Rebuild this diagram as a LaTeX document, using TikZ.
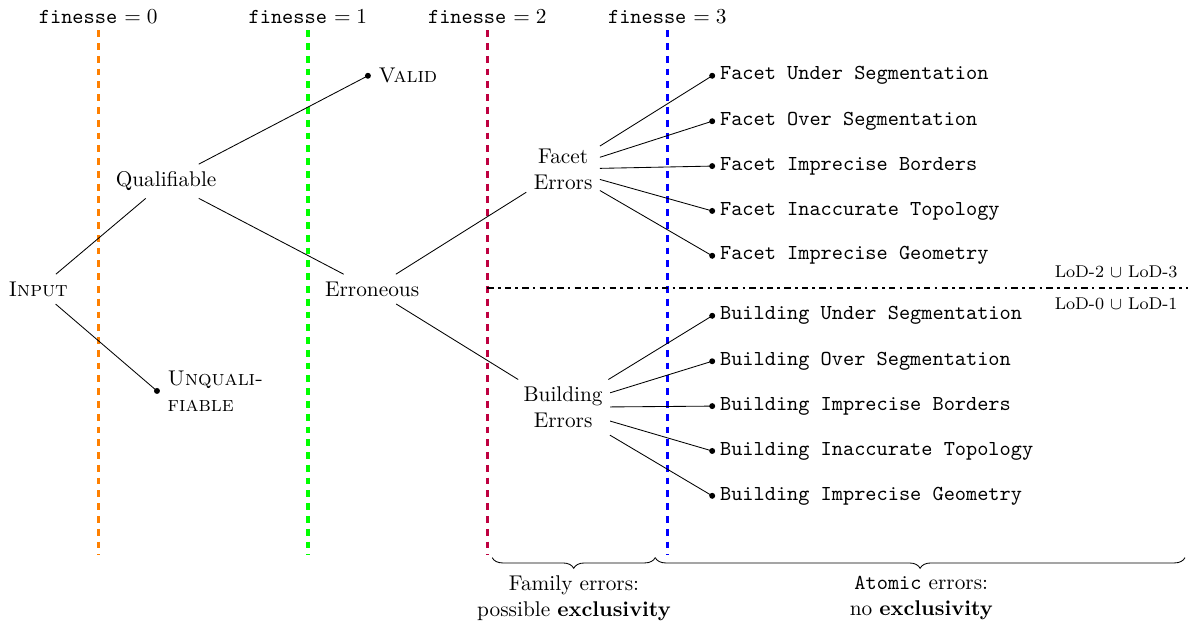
\documentclass[tikz,border=0pt]{standalone}
\usepackage{amssymb}
\usetikzlibrary{decorations.pathreplacing}

\tikzset{
	finesse/.style={line width=1.5pt, dash pattern=on 3.2pt off 2.8pt},
	leaf/.style={anchor=west, font=\ttfamily, inner sep=2pt, xshift=1.5pt},
	family/.style={align=center},
}

\begin{document}
\begin{tikzpicture}
			\useasboundingbox (0,0) rectangle (19.6,-10.33);

%draw finesse lines
			\draw[finesse, orange] (1.62,-0.5) -- (1.62,-9.16);
			\draw[finesse, green] (5.08,-0.5) -- (5.08,-9.16);
			\draw[finesse, purple] (8.04,-0.5) -- (8.04,-9.16);
			\draw[finesse, blue] (11.01,-0.5) -- (11.01,-9.16);

			\node (fZero) at (1.62,-0.27) {\texttt{finesse} $= 0$};
			\node (fOne) at (5.08,-0.27) {\texttt{finesse} $= 1$};
			\node (fTwo) at (8.04,-0.27) {\texttt{finesse} $= 2$};
			\node (fThree) at (11.01,-0.27) {\texttt{finesse} $= 3$};

%draw LoD separation
			\draw[very thick, dash dot] (8.04,-4.75) -- (19.6,-4.75);
			\node[font=\footnotesize, anchor=east] (lodHigh) at (19.55,-4.48) {LoD-2 $\cup$ LoD-3};
			\node[font=\footnotesize, anchor=east] (lodLow) at (19.55,-5.02) {LoD-0 $\cup$ LoD-1};

%define tree nodes
			\node (input) at (0.63,-4.77) {\textsc{Input}};
			\node (qual) at (2.74,-2.99) {Qualifiable};
			\node (err) at (6.14,-4.77) {Erroneous};
			\node[family] (facet) at (9.29,-2.79) {Facet\\Errors};
			\node[family] (building) at (9.29,-6.72) {Building\\Errors};

			\coordinate (valid) at (6.07,-1.25);
			\coordinate (unqual) at (2.59,-6.45);

			\coordinate (fUnder) at (11.75,-1.25);
			\coordinate (fOver) at (11.75,-2.00);
			\coordinate (fBorders) at (11.75,-2.74);
			\coordinate (fTopo) at (11.75,-3.48);
			\coordinate (fGeom) at (11.75,-4.22);

			\coordinate (bUnder) at (11.75,-5.21);
			\coordinate (bOver) at (11.75,-5.96);
			\coordinate (bBorders) at (11.75,-6.70);
			\coordinate (bTopo) at (11.75,-7.44);
			\coordinate (bGeom) at (11.75,-8.18);

%draw edges
			\draw (input) -- (qual);
			\draw (input) -- (unqual);
			\draw (qual) -- (valid);
			\draw (qual) -- (err);
			\draw (err) -- (facet);
			\draw (err) -- (building);
			\foreach \l in {fUnder,fOver,fBorders,fTopo,fGeom}
				\draw (facet) -- (\l);
			\foreach \l in {bUnder,bOver,bBorders,bTopo,bGeom}
				\draw (building) -- (\l);

%draw leaves
			\foreach \l in {valid,unqual,fUnder,fOver,fBorders,fTopo,fGeom,bUnder,bOver,bBorders,bTopo,bGeom}
				\fill (\l) circle (1.4pt);

			\node[anchor=west, xshift=1.5pt] (validTxt) at (valid) {\textsc{Valid}};
			\node[anchor=west, align=left, xshift=1.5pt] (unqualTxt) at (unqual) {\textsc{Unquali-}\\\textsc{fiable}};

			\node[leaf] (fUnderTxt) at (fUnder) {Facet Under Segmentation};
			\node[leaf] (fOverTxt) at (fOver) {Facet Over Segmentation};
			\node[leaf] (fBordersTxt) at (fBorders) {Facet Imprecise Borders};
			\node[leaf] (fTopoTxt) at (fTopo) {Facet Inaccurate Topology};
			\node[leaf] (fGeomTxt) at (fGeom) {Facet Imprecise Geometry};

			\node[leaf] (bUnderTxt) at (bUnder) {Building Under Segmentation};
			\node[leaf] (bOverTxt) at (bOver) {Building Over Segmentation};
			\node[leaf] (bBordersTxt) at (bBorders) {Building Imprecise Borders};
			\node[leaf] (bTopoTxt) at (bTopo) {Building Inaccurate Topology};
			\node[leaf] (bGeomTxt) at (bGeom) {Building Imprecise Geometry};

%draw braces
			\coordinate (braceA) at (8.12,-9.2);
			\coordinate (braceB) at (10.81,-9.2);
			\coordinate (braceC) at (19.55,-9.2);
			\draw[decorate, decoration={brace, mirror, amplitude=5pt}] (braceA) -- (braceB);
			\draw[decorate, decoration={brace, mirror, amplitude=5pt}] (braceB) -- (braceC);

			\node[family] (familyTxt) at (9.47,-9.87) {Family errors:\\possible \textbf{exclusivity}};
			\node[family] (atomicTxt) at (15.2,-9.87) {\texttt{Atomic} errors:\\no \textbf{exclusivity}};

		\end{tikzpicture}
\end{document}
